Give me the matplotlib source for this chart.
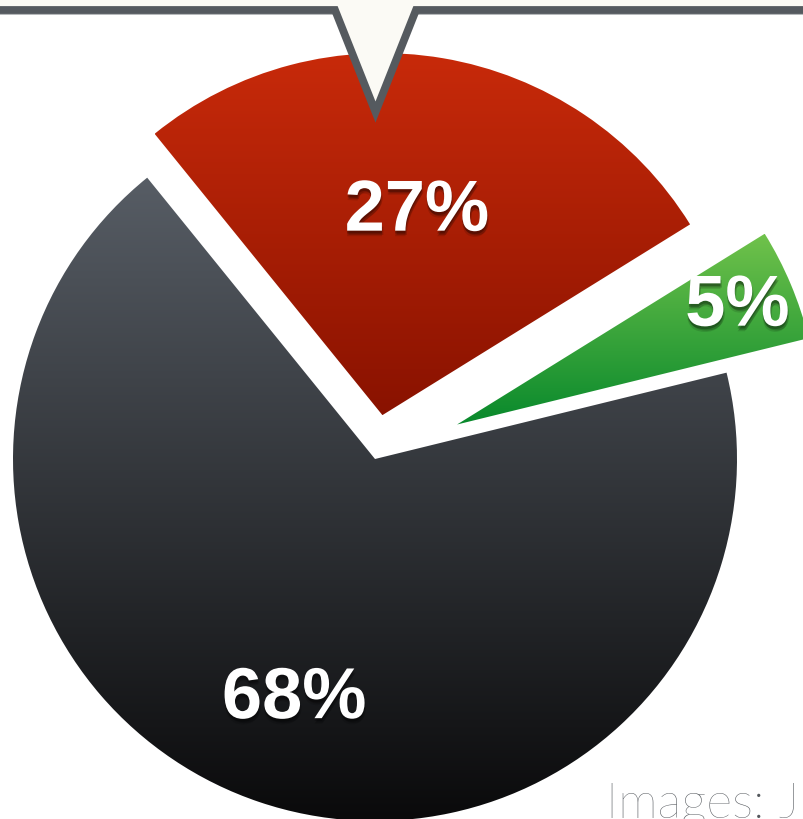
import numpy as np
import matplotlib
matplotlib.use("Agg")
import matplotlib.pyplot as plt
from matplotlib import patheffects as pe
from matplotlib.colors import LinearSegmentedColormap
from matplotlib.path import Path
from matplotlib.patches import PathPatch

# Shares shown in the pie
categories = ["Dark", "Green", "Red"]
shares = [68, 5, 27]
labels = [f"{v}%" for v in shares]

# Styling per slice (explode offsets are in data units here)
explode = [0.0, 89.0, 44.5]
grad_top = ["#575d65", "#70c24b", "#c82a0a"]
grad_bottom = ["#0a0a0b", "#08892c", "#891200"]
label_radius = [0.70, 0.84, 0.57]
label_size = [52, 52, 52]

W, H = 804, 820
fig = plt.figure(figsize=(W / 100, H / 100), dpi=100)
ax = fig.add_axes([0, 0, 1, 1])
fig.patch.set_facecolor("white")

center = (375, H - 460)
radius = 362

wedges, _ = ax.pie(shares, explode=explode, startangle=129, counterclock=True,
                   center=center, radius=radius, frame=True,
                   wedgeprops=dict(linewidth=0))

# soft drop shadow under the white labels
soft_shadow = [
    pe.SimplePatchShadow(offset=(0, -4), shadow_rgbFace="black", alpha=0.12),
    pe.SimplePatchShadow(offset=(1, -3), shadow_rgbFace="black", alpha=0.18),
    pe.SimplePatchShadow(offset=(0, -2), shadow_rgbFace="black", alpha=0.25),
    pe.Normal(),
]

for i, w in enumerate(wedges):
    w.set_facecolor("none")
    bb = w.get_path().get_extents(w.get_transform())
    inv = ax.transData.inverted()
    (x0, y0), (x1, y1) = inv.transform([[bb.x0, bb.y0], [bb.x1, bb.y1]])
    cmap = LinearSegmentedColormap.from_list(f"g{i}", [grad_bottom[i], grad_top[i]])
    grad = np.linspace(0, 1, 256).reshape(-1, 1)
    im = ax.imshow(grad, cmap=cmap, origin="lower", aspect="auto",
                   extent=[x0, x1, y0, y1], interpolation="bilinear", zorder=1)
    im.set_clip_path(w)

    # label inside the slice
    mid = np.deg2rad((w.theta1 + w.theta2) / 2)
    cx, cy = w.center
    r = w.r * label_radius[i]
    ax.text(cx + r * np.cos(mid), cy + r * np.sin(mid), labels[i],
            color="white", fontsize=label_size[i], fontweight="bold",
            family=["Liberation Sans", "DejaVu Sans"],
            ha="center", va="center", zorder=5, path_effects=soft_shadow)

# callout bar at the top with a pointer
ty = H - 11
bar = [(-10, ty), (335, ty), (375.5, H - 113), (416, ty), (W + 10, ty)]
fill_pts = [(-10, H + 10)] + bar + [(W + 10, H + 10), (-10, H + 10)]
codes = [Path.MOVETO] + [Path.LINETO] * (len(fill_pts) - 2) + [Path.CLOSEPOLY]
ax.add_patch(PathPatch(Path(fill_pts, codes), facecolor="#fbfaf5", edgecolor="none", zorder=6))
bx, by = zip(*bar)
ax.plot(bx, [y - 4 for y in by], color="#a8abae", lw=1.2, zorder=6.5, solid_joinstyle="miter")
ax.plot(bx, by, color="#555a5f", lw=5.6, zorder=7, solid_joinstyle="miter")

ax.text(606, H - 818, "Images: J", fontsize=36, color="#53575c",
        family=["Lato", "Liberation Sans", "DejaVu Sans"], fontweight="light",
        ha="left", va="baseline", zorder=8)

ax.set_xlim(0, W)
ax.set_ylim(0, H)
ax.set_aspect("equal")
ax.axis("off")

fig.savefig("out.png", dpi=100)
